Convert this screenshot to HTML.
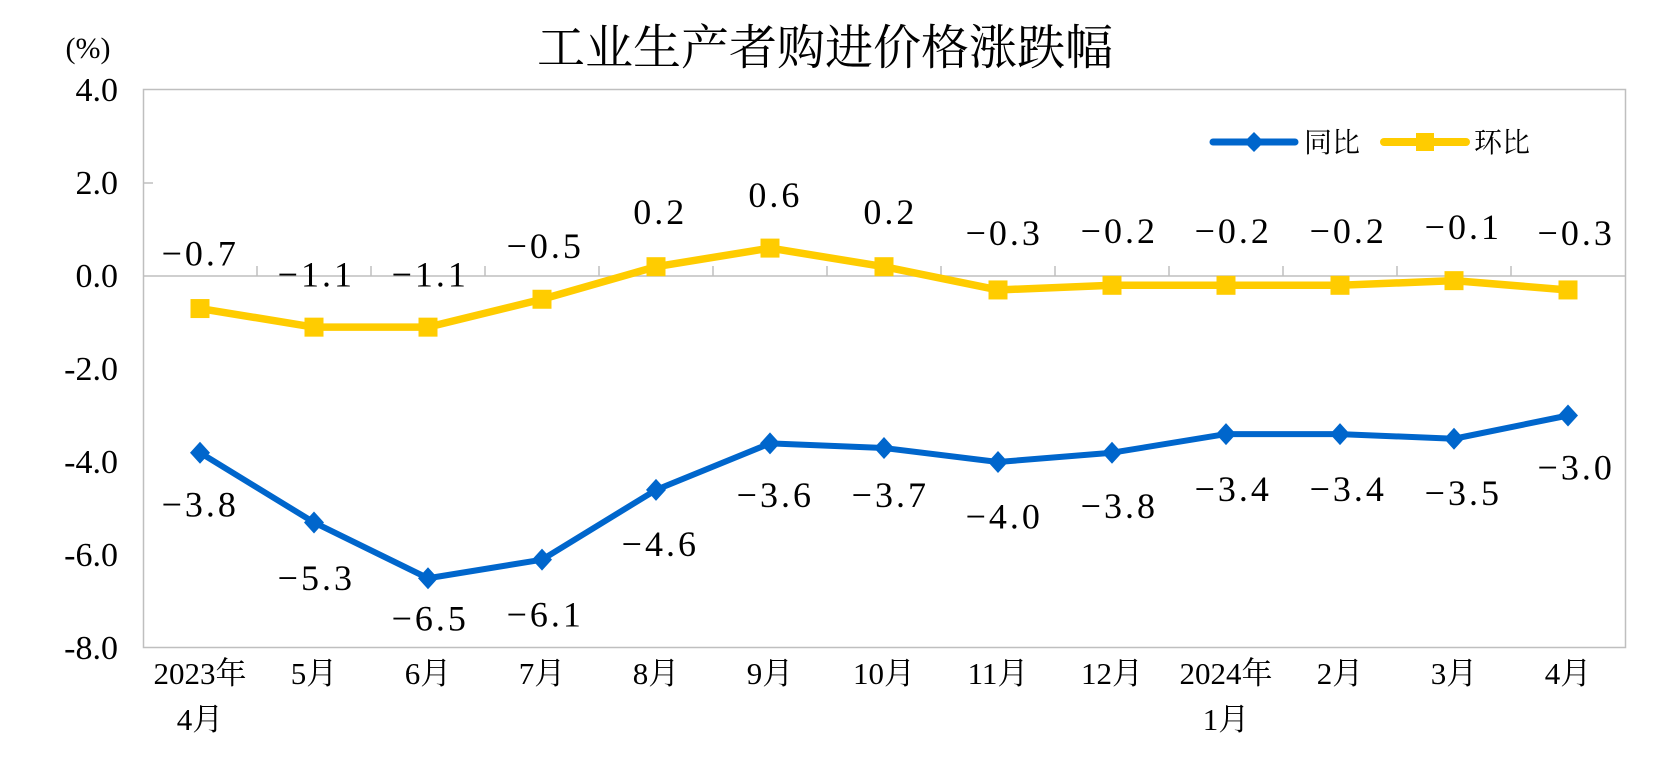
<!DOCTYPE html>
<html><head><meta charset="utf-8"><style>body{margin:0;background:#fff}svg{display:block}</style></head><body>
<svg width="1662" height="762" xmlns="http://www.w3.org/2000/svg" font-family="'Liberation Serif','Noto Serif CJK SC',serif">
<rect width="1662" height="762" fill="#fff"/>
<text x="825" y="64" font-size="48" text-anchor="middle" font-family="'Liberation Serif','Noto Serif CJK SC',serif">工业生产者购进价格涨跌幅</text>
<text x="88" y="58" font-size="30" text-anchor="middle">(%)</text>
<rect x="143.5" y="89.5" width="1482" height="558" fill="none" stroke="#bfbfbf" stroke-width="1.5"/>
<line x1="143" y1="276" x2="1626" y2="276" stroke="#bfbfbf" stroke-width="1.5"/>
<g stroke="#bfbfbf" stroke-width="1.5" id="ticks"></g>
<g font-size="34" text-anchor="end" id="yl"></g>
<g font-size="31" text-anchor="middle" id="xl"></g>
<polyline id="yel" fill="none" stroke="#FFCC00" stroke-width="7.5" stroke-linejoin="round"/>
<polyline id="blu" fill="none" stroke="#0066CC" stroke-width="6" stroke-linejoin="round"/>
<g id="mk"></g>
<g font-size="36" text-anchor="middle" letter-spacing="3" id="lb"></g>
<line x1="1213" y1="142" x2="1295" y2="142" stroke="#0066CC" stroke-width="7" stroke-linecap="round"/>
<polygon points="1254,132 1264,142 1254,152 1244,142" fill="#0066CC"/>
<text x="1304" y="152" font-size="28" font-family="'Noto Serif CJK SC',serif">同比</text>
<line x1="1384" y1="142" x2="1466" y2="142" stroke="#FFCC00" stroke-width="8" stroke-linecap="round"/>
<rect x="1416" y="133" width="18" height="18" fill="#FFCC00"/>
<text x="1474" y="152" font-size="28" font-family="'Noto Serif CJK SC',serif">环比</text>
</svg>
<script>
const NS="http://www.w3.org/2000/svg";
function el(p,t,a,txt){const e=document.createElementNS(NS,t);for(const k in a)e.setAttribute(k,a[k]);if(txt!=null)e.textContent=txt;document.getElementById(p).appendChild(e);return e;}
const X0=143,W=114,Y0=276,S=46.5;
for(let i=1;i<13;i++)el('ticks','line',{x1:X0+W*i,y1:266,x2:X0+W*i,y2:276});
el('ticks','line',{x1:143,y1:183,x2:153,y2:183});
for(let v=4;v>=-8;v-=2){el('yl','text',{x:118,y:Y0-v*S+11},v.toFixed(1));}
const xs=[["2023年","4月"],["5月"],["6月"],["7月"],["8月"],["9月"],["10月"],["11月"],["12月"],["2024年","1月"],["2月"],["3月"],["4月"]];
xs.forEach((a,i)=>{a.forEach((t,j)=>el('xl','text',{x:X0+W/2+W*i,y:684+j*46},t));});
const yv=[-0.7,-1.1,-1.1,-0.5,0.2,0.6,0.2,-0.3,-0.2,-0.2,-0.2,-0.1,-0.3];
const bv=[-3.8,-5.3,-6.5,-6.1,-4.6,-3.6,-3.7,-4.0,-3.8,-3.4,-3.4,-3.5,-3.0];
const px=i=>X0+W/2+W*i, py=v=>Y0-v*S;
document.getElementById('yel').setAttribute('points',yv.map((v,i)=>px(i)+','+py(v)).join(' '));
document.getElementById('blu').setAttribute('points',bv.map((v,i)=>px(i)+','+py(v)).join(' '));
yv.forEach((v,i)=>el('mk','rect',{x:px(i)-9.5,y:py(v)-9.5,width:19,height:19,fill:'#FFCC00'}));
bv.forEach((v,i)=>{const x=px(i),y=py(v);el('mk','polygon',{points:`${x},${y-11} ${x+10},${y} ${x},${y+11} ${x-10},${y}`,fill:'#0066CC'});});
const yl=[[188,237],[297,257],[404,257],[512,230],[620,198],[728,182],[836,198],[943,218],[1051,216],[1158,216],[1266,216],[1374,212],[1480,218]];
const bl=[[188,473],[297,542],[404,580],[512,576],[620,510],[728,464],[836,464],[943,484],[1051,474],[1158,458],[1266,458],[1374,462],[1480,438]];
const f=v=>(v<0?'−':'')+Math.abs(v).toFixed(1);
yl.forEach((p,i)=>el('lb','text',{x:p[0]*1.065,y:p[1]*1.065+13},f(yv[i])));
bl.forEach((p,i)=>el('lb','text',{x:p[0]*1.065,y:p[1]*1.065+13},f(bv[i])));
</script>
</body></html>
